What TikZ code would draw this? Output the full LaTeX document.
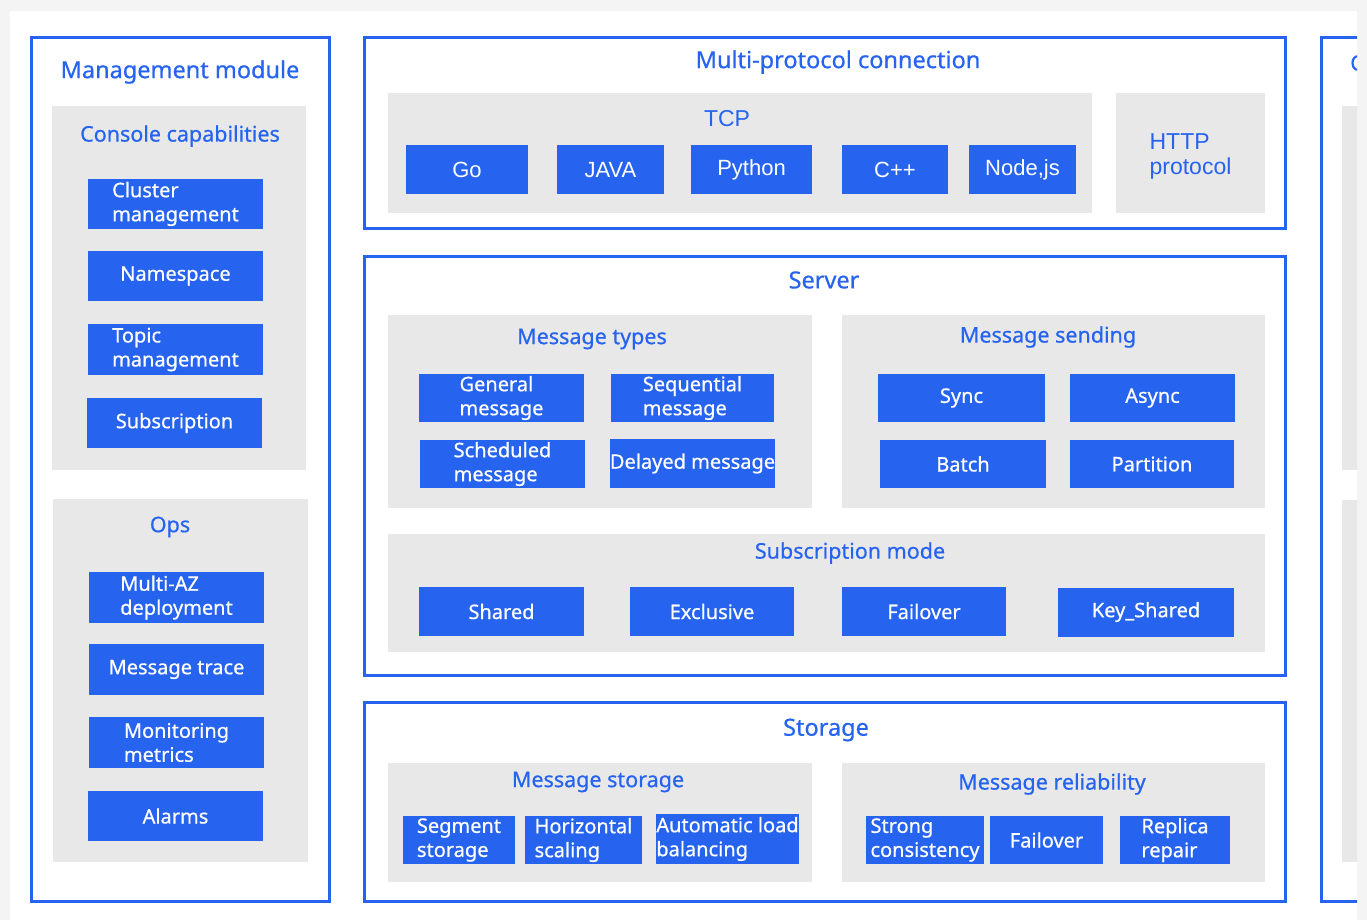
\documentclass[tikz,border=0pt]{standalone}
\usepackage{fontspec}
\setmainfont{Noto Sans}[FakeBold=0.6]
\newfontfamily\arialfont{Liberation Sans}
\usepackage{xcolor}

\begin{document}
\begin{tikzpicture}[x=1pt,y=-1pt,
  frame/.style={draw=rq_blue,line width=3.5pt},
  title/.style={text=rq_blue,inner sep=0pt,font=\fontsize{21.5}{26}\selectfont},
  big_title/.style={title,font=\fontsize{23.5}{28}\selectfont},
  blk/.style 2 args={fill=rq_blue,text=white,minimum width=#1pt,minimum height=#2pt,inner sep=0pt,align=left,font=\fontsize{20}{24}\selectfont},
  lang/.style 2 args={blk={#1}{#2},font=\arialfont\fontsize{22}{26}\selectfont}]
\definecolor{rq_blue}{RGB}{38,100,240}
\definecolor{panel_gray}{RGB}{232,232,232}
\definecolor{page_gray}{RGB}{244,244,244}

% Page and card
\useasboundingbox (0,0) rectangle (1367,920);
\fill[page_gray] (0,0) rectangle (1367,920);
\fill[white] (10,11) rectangle (1357,920);

% Management module
\draw[frame] (31.5,37.5) rectangle (329.5,901.5);
\node[big_title] (mgmt) at (180,72) {Management module};
\fill[panel_gray] (52,106) rectangle (306,470);
\node[title] (console) at (180,136) {Console capabilities};
\node[blk={175}{50}] (cluster) at (175.5,204) {Cluster\\management};
\node[blk={175}{50}] (namespace) at (175.5,276) {Namespace};
\node[blk={175}{51}] (topic) at (175.5,349.5) {Topic\\management};
\node[blk={175}{50}] (subscr) at (174.5,423) {Subscription};
\fill[panel_gray] (53,499) rectangle (308,862);
\node[title] (ops) at (170,527) {Ops};
\node[blk={175}{51}] (multiaz) at (176.5,597.5) {Multi-AZ\\deployment};
\node[blk={175}{51}] (trace) at (176.5,669.5) {Message trace};
\node[blk={175}{51}] (metrics) at (176.5,742.5) {Monitoring\\metrics};
\node[blk={175}{50}] (alarms) at (175.5,816) {Alarms};

% Multi-protocol connection
\draw[frame] (364.5,37.5) rectangle (1285.5,228.5);
\node[big_title] (multi) at (838,62) {Multi-protocol connection};
\fill[panel_gray] (388,93) rectangle (1092,213);
\node[title,font=\arialfont\fontsize{23}{26}\selectfont] (tcp) at (727,119) {TCP};
\foreach \cx/\w/\nm/\txt in {467/122/go/Go, 610.5/107/java/JAVA, 751.5/121/python/Python,
                             895/106/cpp/C++, 1022.5/107/nodejs/{Node,js}}
  \node[lang={\w}{49}] (\nm) at (\cx,170) {\txt};
\fill[panel_gray] (1116,93) rectangle (1265,213);
\node[title,align=left,font=\arialfont\fontsize{23}{25}\selectfont] (http) at (1190.5,156) {HTTP\\protocol};

% Server
\draw[frame] (364.5,256.5) rectangle (1285.5,675.5);
\node[big_title] (server) at (824,280) {Server};
\fill[panel_gray] (388,315) rectangle (812,508);
\node[title] (types) at (592,339) {Message types};
\node[blk={165}{48}] (general) at (501.5,398) {General\\message};
\node[blk={163}{48}] (sequential) at (692.5,398) {Sequential\\message};
\node[blk={165}{48}] (scheduled) at (502.5,464) {Scheduled\\message};
\node[blk={163}{49}] (delayed) at (692.5,463.5) {Delayed message};
\fill[panel_gray] (842,315) rectangle (1265,508);
\node[title] (sending) at (1048,337) {Message sending};
\node[blk={167}{48}] (sync) at (961.5,398) {Sync};
\node[blk={165}{48}] (async) at (1152.5,398) {Async};
\node[blk={166}{48}] (batch) at (963,464) {Batch};
\node[blk={164}{48}] (partition) at (1152,464) {Partition};
\fill[panel_gray] (388,534) rectangle (1265,652);
\node[title] (mode) at (850,553) {Subscription mode};
\node[blk={165}{49}] (shared) at (501.5,611.5) {Shared};
\node[blk={164}{49}] (exclusive) at (712,611.5) {Exclusive};
\node[blk={164}{49}] (failover) at (924,611.5) {Failover};
\node[blk={176}{49}] (keyshared) at (1146,612) {Key\_Shared};

% Storage
\draw[frame] (364.5,702.5) rectangle (1285.5,901.5);
\node[big_title] (storage) at (826,730) {Storage};
\fill[panel_gray] (388,763) rectangle (812,882);
\node[title] (msgstore) at (598,782) {Message storage};
\node[blk={112}{48}] (segment) at (459,840) {Segment\\storage};
\node[blk={117}{48}] (horizontal) at (583.5,840) {Horizontal\\scaling};
\node[blk={143}{50}] (balancing) at (727.5,839) {Automatic load\\balancing};
\fill[panel_gray] (842,763) rectangle (1265,882);
\node[title] (reliab) at (1052,784) {Message reliability};
\node[blk={118}{48}] (strong) at (925,840) {Strong\\consistency};
\node[blk={113}{48}] (failover2) at (1046.5,840) {Failover};
\node[blk={110}{48}] (replica) at (1175,840) {Replica\\repair};

% Cut-off column on the right
\begin{scope}
\clip (0,0) rectangle (1357,920);
\draw[frame] (1321.5,37.5) rectangle (1420,901.5);
\fill[panel_gray] (1342,106) rectangle (1420,470);
\fill[panel_gray] (1342,500) rectangle (1420,862);
\node[title,anchor=west] (client) at (1350,63) {C};
\end{scope}
\end{tikzpicture}
\end{document}
